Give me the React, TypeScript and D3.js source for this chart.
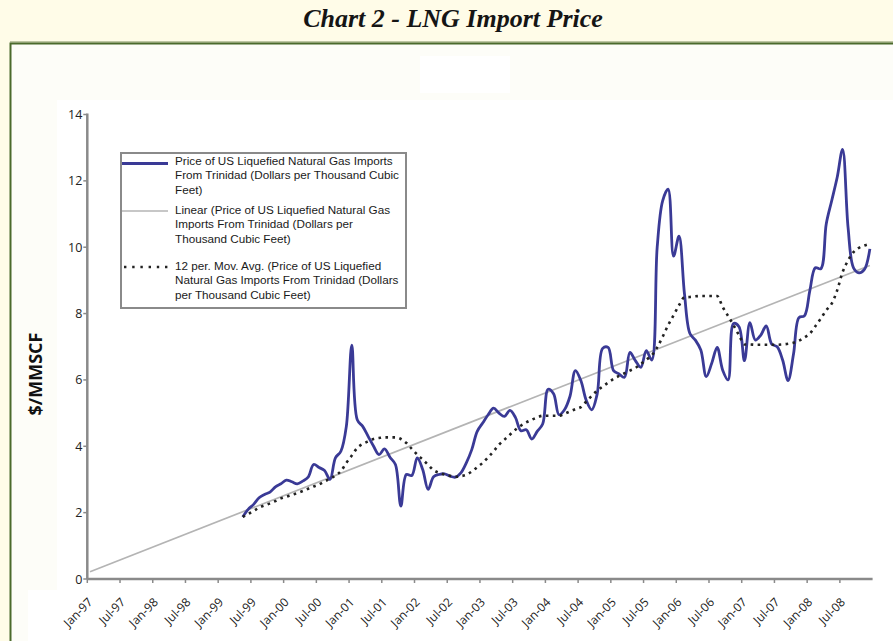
import React from 'react';
import * as d3 from 'd3';

const TITLE = 'Chart 2 - LNG Import Price';
const Y_LABEL = '$/MMSCF';

// Category axis: monthly categories from Jan-97 through Dec-08
const AXIS_FIRST = { year: 1997, month: 0 };
const AXIS_MONTHS = 144;
const DATA_FIRST = { year: 1999, month: 4 }; // May-99

const xTickLabels = [
  'Jan-97', 'Jul-97', 'Jan-98', 'Jul-98', 'Jan-99', 'Jul-99', 'Jan-00', 'Jul-00',
  'Jan-01', 'Jul-01', 'Jan-02', 'Jul-02', 'Jan-03', 'Jul-03', 'Jan-04', 'Jul-04',
  'Jan-05', 'Jul-05', 'Jan-06', 'Jul-06', 'Jan-07', 'Jul-07', 'Jan-08', 'Jul-08',
];
const yTicks = [0, 2, 4, 6, 8, 10, 12, 14];

// Price of US LNG imports from Trinidad, monthly from May-99 to Dec-08
const price1999 = [1.87, 2.1, 2.25, 2.45, 2.55, 2.62, 2.78, 2.87];
const price2000 = [2.98, 2.93, 2.87, 2.95, 3.07, 3.45, 3.36, 3.27, 3.0, 3.65, 3.85, 4.6];
const price2001 = [7.05, 4.8, 4.6, 4.3, 4.0, 3.75, 3.92, 3.67, 3.45, 2.2, 3.15, 3.12];
const price2002 = [3.65, 3.3, 2.7, 3.08, 3.15, 3.17, 3.1, 3.07, 3.2, 3.5, 3.9, 4.45];
const price2003 = [4.7, 4.95, 5.15, 5.0, 4.9, 5.08, 4.87, 4.47, 4.5, 4.22, 4.45, 4.67];
const price2004 = [5.72, 5.58, 4.95, 5.1, 5.5, 6.28, 5.98, 5.38, 5.1, 5.58, 6.95, 6.98];
const price2005 = [6.28, 6.18, 6.08, 6.83, 6.58, 6.38, 6.88, 6.6, 10.0, 11.4, 11.75, 9.73];
const price2006 = [10.33, 8.6, 7.4, 7.2, 6.9, 6.1, 6.5, 6.98, 6.3, 6.0, 7.7, 7.6];
const price2007 = [6.58, 7.73, 7.2, 7.35, 7.63, 7.08, 7.0, 6.6, 5.98, 6.78, 7.88, 7.93];
const price2008 = [8.7, 9.38, 9.35, 10.7, 11.4, 12.1, 12.95, 10.6, 9.38, 9.23, 9.33, 9.95];

// 12 period moving average as drawn, monthly from May-99 to Dec-08
const ma1999 = [1.87, 1.96, 2.05, 2.15, 2.22, 2.28, 2.35, 2.43];
const ma2000 = [2.48, 2.54, 2.59, 2.65, 2.72, 2.79, 2.85, 2.94, 3.02, 3.12, 3.25, 3.5];
const ma2001 = [3.72, 3.95, 4.07, 4.15, 4.22, 4.25, 4.27, 4.27, 4.27, 4.22, 4.1, 3.92];
const ma2002 = [3.75, 3.6, 3.44, 3.28, 3.2, 3.15, 3.11, 3.08, 3.1, 3.14, 3.24, 3.37];
const ma2003 = [3.5, 3.67, 3.85, 4.05, 4.2, 4.35, 4.5, 4.62, 4.72, 4.8, 4.87, 4.92];
const ma2004 = [4.92, 4.92, 4.92, 4.98, 5.05, 5.12, 5.18, 5.35, 5.52, 5.68, 5.8, 5.92];
const ma2005 = [6.03, 6.12, 6.2, 6.28, 6.36, 6.48, 6.61, 6.74, 6.98, 7.3, 7.65, 7.95];
const ma2006 = [8.25, 8.49, 8.5, 8.52, 8.53, 8.53, 8.53, 8.53, 8.2, 7.93, 7.65, 7.35];
const ma2007 = [7.07, 7.07, 7.06, 7.06, 7.06, 7.06, 7.06, 7.07, 7.09, 7.12, 7.18, 7.28];
const ma2008 = [7.4, 7.62, 7.85, 8.1, 8.3, 8.7, 9.25, 9.6, 9.85, 9.98, 10.05, 10.1];

// Linear trend endpoints (Jan-97, Dec-08)
const trendMonths = [0, 143];
const trendValues = [0.22, 9.45];

const priceValues = [
  ...price1999, ...price2000, ...price2001, ...price2002, ...price2003,
  ...price2004, ...price2005, ...price2006, ...price2007, ...price2008,
];
const maValues = [
  ...ma1999, ...ma2000, ...ma2001, ...ma2002, ...ma2003,
  ...ma2004, ...ma2005, ...ma2006, ...ma2007, ...ma2008,
];

const legendItems = [
  {
    key: 'price',
    lines: ['Price of US Liquefied Natural Gas Imports', 'From Trinidad (Dollars per Thousand Cubic', 'Feet)'],
  },
  {
    key: 'linear',
    lines: ['Linear (Price of US Liquefied Natural Gas', 'Imports From Trinidad (Dollars per', 'Thousand Cubic Feet)'],
  },
  {
    key: 'ma',
    lines: ['12 per. Mov. Avg. (Price of US Liquefied', 'Natural Gas Imports From Trinidad (Dollars', 'per Thousand Cubic Feet)'],
  },
];

const W = 893;
const H = 641;
const BLUE = '#3a3a96';
const TREND = '#b4b4b4';
const AXIS = '#8a8a8a';
const SANS = "'Open Sans', 'Noto Sans', sans-serif";

export default function App() {
  const x = d3.scaleLinear().domain([0, AXIS_MONTHS]).range([87.3, 872.6]);
  const y = d3.scaleLinear().domain([0, 14]).range([579, 114.5]);
  const start = (DATA_FIRST.year - AXIS_FIRST.year) * 12 + (DATA_FIRST.month - AXIS_FIRST.month);

  const priceLine = d3
    .line<number>()
    .x((_, i) => x(start + i + 0.5))
    .y((d) => y(d))
    .curve(d3.curveCatmullRom.alpha(0.5));
  const maLine = d3
    .line<number>()
    .x((_, i) => x(start + i + 0.5))
    .y((d) => y(d))
    .curve(d3.curveMonotoneX);
  const trendLine = d3
    .line<number>()
    .x((_, i) => x(trendMonths[i] + 0.5))
    .y((d) => y(d));

  const axisY = y(0);
  const axisX = x(0);

  const legendX = 121;
  const legendY = 153;
  const legendW = 285;
  const legendH = 155;
  const groupTops = [165, 214, 270];
  const symbolYs = [163.5, 211, 267];
  const lineGap = 14.4;

  return (
    <svg
      width={W}
      height={H}
      viewBox={`0 0 ${W} ${H}`}
      style={{ position: 'absolute', left: 0, top: 0, display: 'block' }}
    >
      <rect x={0} y={0} width={W} height={H} fill="#fffce8" />
      <text
        x={453}
        y={27}
        textAnchor="middle"
        fontFamily="'Liberation Serif', 'DejaVu Serif', serif"
        fontStyle="italic"
        fontWeight="bold"
        fontSize={26}
        fill="#151515"
      >
        {TITLE}
      </text>
      {/* frame */}
      <line x1={10} x2={W} y1={41.8} y2={41.8} stroke="#a9b58c" strokeWidth={1.2} />
      <rect x={10.5} y={43.5} width={W + 10} height={H} fill="#fdfdf8" stroke="#4b6a2c" strokeWidth={2} />
      <rect x={57} y={100} width={W - 57} height={490} fill="#ffffff" />
      <rect x={28} y={590} width={W - 28} height={H - 590} fill="#ffffff" />
      <rect x={420} y={56} width={90} height={37} fill="#ffffff" />

      {/* y label */}
      <text
        transform={`translate(42, 374) rotate(-90)`}
        textAnchor="middle"
        fontFamily={SANS}
        fontWeight="bold"
        fontSize={18}
        fill="#111"
      >
        {Y_LABEL}
      </text>

      {/* y axis */}
      <line x1={axisX} x2={axisX} y1={y(14) - 1} y2={axisY} stroke={AXIS} strokeWidth={2.5} />
      {yTicks.map((t) => (
        <g key={t}>
          <line x1={axisX - 4} x2={axisX} y1={y(t)} y2={y(t)} stroke={AXIS} strokeWidth={1.5} />
          <text
            x={axisX - 5}
            y={y(t)}
            dy="0.36em"
            textAnchor="end"
            fontFamily={SANS}
            fontSize={12.5}
            fill="#222"
          >
            {t}
          </text>
        </g>
      ))}

      {/* x axis */}
      <line x1={axisX} x2={x(AXIS_MONTHS)} y1={axisY} y2={axisY} stroke={AXIS} strokeWidth={2.5} />
      {xTickLabels.map((lab, i) => {
        const tx = x(i * 6);
        return (
          <g key={lab}>
            <line x1={tx} x2={tx} y1={axisY} y2={axisY + 4} stroke={AXIS} strokeWidth={1.5} />
            <text
              transform={`translate(${tx + 6}, 603) rotate(-45)`}
              textAnchor="end"
              fontFamily={SANS}
              fontSize={12}
              fill="#222"
            >
              {lab}
            </text>
          </g>
        );
      })}

      {/* series */}
      <path d={trendLine(trendValues) || ''} fill="none" stroke={TREND} strokeWidth={1.7} />
      <path d={priceLine(priceValues) || ''} fill="none" stroke={BLUE} strokeWidth={2.8} strokeLinejoin="round" />
      <path
        d={maLine(maValues) || ''}
        fill="none"
        stroke="#222"
        strokeWidth={2.6}
        strokeDasharray="2.6,4.4"
      />

      {/* legend */}
      <rect x={legendX} y={legendY} width={legendW} height={legendH} fill="#ffffff" stroke={AXIS} strokeWidth={2} />
      <line x1={legendX + 1} x2={168} y1={symbolYs[0]} y2={symbolYs[0]} stroke={BLUE} strokeWidth={3.2} />
      <line x1={legendX + 1} x2={168} y1={symbolYs[1]} y2={symbolYs[1]} stroke={TREND} strokeWidth={1.7} />
      <line
        x1={legendX + 3}
        x2={168}
        y1={symbolYs[2]}
        y2={symbolYs[2]}
        stroke="#222"
        strokeWidth={2.4}
        strokeDasharray="2.4,5.8"
      />
      {legendItems.map((item, gi) => (
        <text key={item.key} fontFamily="'Liberation Sans', Arial, sans-serif" fontSize={11.7} fill="#1a1a1a">
          {item.lines.map((ln, li) => (
            <tspan key={li} x={175} y={groupTops[gi] + li * lineGap}>
              {ln}
            </tspan>
          ))}
        </text>
      ))}
    </svg>
  );
}
